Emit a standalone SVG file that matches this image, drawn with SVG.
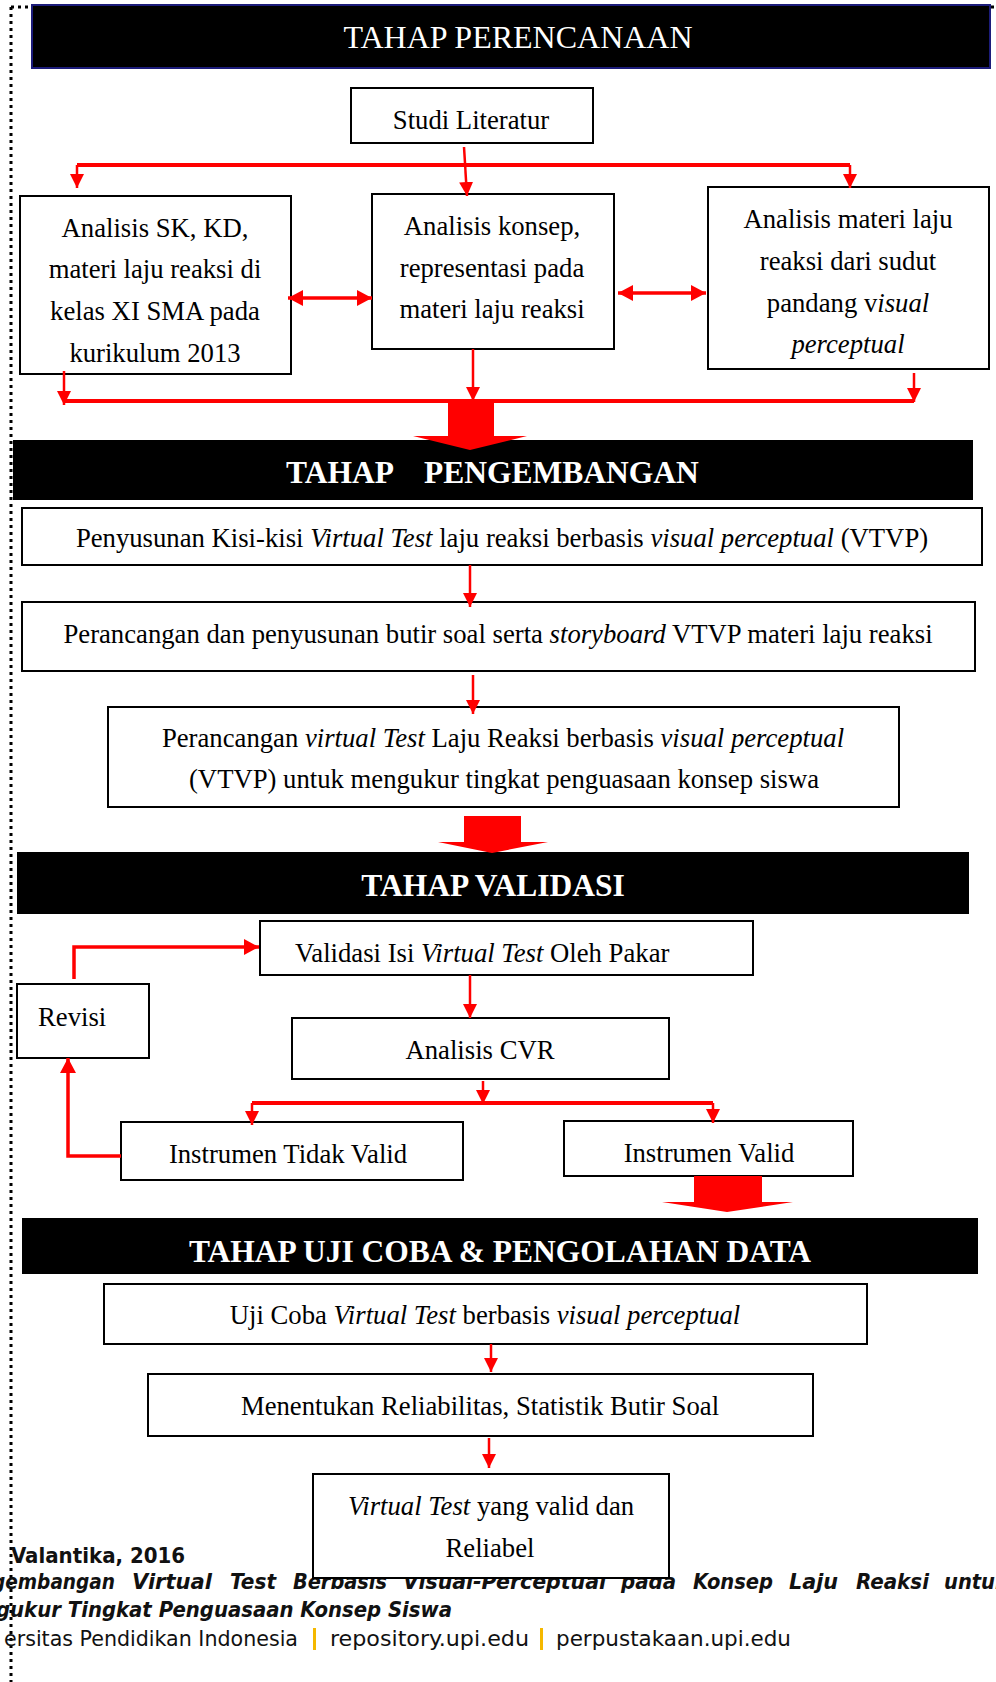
<svg xmlns="http://www.w3.org/2000/svg" width="996" height="1682" viewBox="0 0 996 1682">
<defs>
<marker id="ah" markerUnits="userSpaceOnUse" markerWidth="16" markerHeight="16" refX="15" refY="8" orient="auto-start-reverse" viewBox="0 0 16 16">
<path d="M0,0 L15,8 L0,16 z" fill="#ff0000"/>
</marker>
<marker id="ahs" markerUnits="userSpaceOnUse" markerWidth="14" markerHeight="14" refX="14" refY="7" orient="auto-start-reverse" viewBox="0 0 14 14">
<path d="M0,0 L14,7 L0,14 z" fill="#ff0000"/>
</marker>
</defs>
<style>
.box{fill:#fff;stroke:#000;stroke-width:2}
.bar{fill:#000}
.t{font-family:"Liberation Serif","Times New Roman",serif;font-size:26.7px;fill:#000}
.c{text-anchor:middle}
.i{font-style:italic}
.bt{font-family:"Liberation Serif","Times New Roman",serif;font-size:31.5px;fill:#fff;font-weight:bold}
.ln{fill:none;stroke:#ff0000;stroke-width:2.5}
.lnt{fill:none;stroke:#ff0000;stroke-width:4}
.lnm{fill:none;stroke:#ff0000;stroke-width:3.5}
.blk{fill:#ff0000}
.ft{font-family:"DejaVu Sans Condensed","DejaVu Sans",sans-serif;font-size:21px;fill:#111}
.fb{font-weight:bold}
.fi{font-style:italic}
.sep{fill:#f5b800}
</style>

<!-- page border dotted -->
<path d="M11,7 V1682 M11,7 H996" fill="none" stroke="#000" stroke-width="3" stroke-dasharray="3 4"/>

<!-- footer (behind final box) -->
<g id="footer">
<text class="ft fb" x="11" y="1563" textLength="174" lengthAdjust="spacingAndGlyphs">Valantika, 2016</text>
<g class="ft fb fi">
<text x="-8" y="1589" textLength="123" lengthAdjust="spacingAndGlyphs">gembangan</text>
<text x="132" y="1589" textLength="80" lengthAdjust="spacingAndGlyphs">Virtual</text>
<text x="230" y="1589" textLength="46" lengthAdjust="spacingAndGlyphs">Test</text>
<text x="293" y="1589" textLength="94" lengthAdjust="spacingAndGlyphs">Berbasis</text>
<text x="403" y="1589" textLength="203" lengthAdjust="spacingAndGlyphs">Visual-Perceptual</text>
<text x="621" y="1589" textLength="55" lengthAdjust="spacingAndGlyphs">pada</text>
<text x="693" y="1589" textLength="80" lengthAdjust="spacingAndGlyphs">Konsep</text>
<text x="789" y="1589" textLength="49" lengthAdjust="spacingAndGlyphs">Laju</text>
<text x="856" y="1589" textLength="73" lengthAdjust="spacingAndGlyphs">Reaksi</text>
<text x="944" y="1589" textLength="64" lengthAdjust="spacingAndGlyphs">untuk</text>
</g>
<text class="ft fb fi" x="-4" y="1617" textLength="456" lengthAdjust="spacingAndGlyphs">gukur Tingkat Penguasaan Konsep Siswa</text>
<text class="ft" x="4" y="1646" textLength="294" lengthAdjust="spacingAndGlyphs">ersitas Pendidikan Indonesia</text>
<rect class="sep" x="313" y="1628" width="3" height="22"/>
<text class="ft" x="330" y="1646" textLength="199" lengthAdjust="spacingAndGlyphs">repository.upi.edu</text>
<rect class="sep" x="540" y="1628" width="3" height="22"/>
<text class="ft" x="556" y="1646" textLength="235" lengthAdjust="spacingAndGlyphs">perpustakaan.upi.edu</text>
</g>

<!-- phase bars -->
<g id="bar-perencanaan">
<rect x="32" y="5" width="958" height="63" fill="#000" stroke="#1c1c7a" stroke-width="2"/>
<text x="518" y="48" text-anchor="middle" font-family="Liberation Serif, Times New Roman, serif" font-size="32" fill="#fff">TAHAP PERENCANAAN</text>
</g>
<g id="bar-pengembangan">
<rect class="bar" x="13" y="440" width="960" height="60"/>
<text class="bt" x="286" y="483">TAHAP</text>
<text class="bt" x="424" y="483">PENGEMBANGAN</text>
</g>
<g id="bar-validasi">
<rect class="bar" x="17" y="852" width="952" height="62"/>
<text class="bt c" x="493" y="896">TAHAP VALIDASI</text>
</g>
<g id="bar-ujicoba">
<rect class="bar" x="22" y="1218" width="956" height="56"/>
<text class="bt c" x="500" y="1262">TAHAP UJI COBA &amp; PENGOLAHAN DATA</text>
</g>

<!-- nodes -->
<g id="studi-literatur">
<rect class="box" x="351" y="88" width="242" height="55"/>
<text class="t c" x="471" y="129">Studi Literatur</text>
</g>
<g id="analisis-sk-kd">
<rect class="box" x="20" y="196" width="271" height="178"/>
<text class="t c" x="155" y="237">Analisis SK, KD,</text>
<text class="t c" x="155" y="278">materi laju reaksi di</text>
<text class="t c" x="155" y="320">kelas XI SMA pada</text>
<text class="t c" x="155" y="362">kurikulum 2013</text>
</g>
<g id="analisis-konsep">
<rect class="box" x="372" y="194" width="242" height="155"/>
<text class="t c" x="492" y="235">Analisis konsep,</text>
<text class="t c" x="492" y="277">representasi pada</text>
<text class="t c" x="492" y="318">materi laju reaksi</text>
</g>
<g id="analisis-materi">
<rect class="box" x="708" y="187" width="281" height="182"/>
<text class="t c" x="848" y="228">Analisis materi laju</text>
<text class="t c" x="848" y="270">reaksi dari sudut</text>
<text class="t c" x="848" y="312">pandang v<tspan class="i">isual</tspan></text>
<text class="t c i" x="848" y="353">perceptual</text>
</g>
<g id="kisi-kisi">
<rect class="box" x="22" y="508" width="960" height="57"/>
<text class="t c" x="502" y="547">Penyusunan Kisi-kisi <tspan class="i">Virtual Test</tspan> laju reaksi berbasis <tspan class="i">visual perceptual</tspan> (VTVP)</text>
</g>
<g id="butir-soal">
<rect class="box" x="22" y="602" width="953" height="69"/>
<text class="t c" x="498" y="643">Perancangan dan penyusunan butir soal serta <tspan class="i">storyboard</tspan> VTVP materi laju reaksi</text>
</g>
<g id="perancangan-vt">
<rect class="box" x="108" y="707" width="791" height="100"/>
<text class="t c" x="503" y="747">Perancangan <tspan class="i">virtual Test</tspan> Laju Reaksi berbasis <tspan class="i">visual perceptual</tspan></text>
<text class="t c" x="504" y="788">(VTVP) untuk mengukur tingkat penguasaan konsep siswa</text>
</g>
<g id="validasi-isi">
<rect class="box" x="260" y="921" width="493" height="54"/>
<text class="t" x="295" y="962">Validasi Isi <tspan class="i">Virtual Test</tspan> Oleh Pakar</text>
</g>
<g id="revisi">
<rect class="box" x="17" y="984" width="132" height="74"/>
<text class="t" x="38" y="1026">Revisi</text>
</g>
<g id="analisis-cvr">
<rect class="box" x="292" y="1018" width="377" height="61"/>
<text class="t c" x="480" y="1059">Analisis CVR</text>
</g>
<g id="tidak-valid">
<rect class="box" x="121" y="1122" width="342" height="58"/>
<text class="t c" x="288" y="1163">Instrumen Tidak Valid</text>
</g>
<g id="valid">
<rect class="box" x="564" y="1121" width="289" height="55"/>
<text class="t c" x="709" y="1162">Instrumen Valid</text>
</g>
<g id="uji-coba">
<rect class="box" x="104" y="1284" width="763" height="60"/>
<text class="t c" x="485" y="1324">Uji Coba <tspan class="i">Virtual Test</tspan> berbasis <tspan class="i">visual perceptual</tspan></text>
</g>
<g id="reliabilitas">
<rect class="box" x="148" y="1374" width="665" height="62"/>
<text class="t c" x="480" y="1415">Menentukan Reliabilitas, Statistik Butir Soal</text>
</g>
<g id="hasil">
<rect class="box" x="313" y="1474" width="356" height="104"/>
<text class="t c" x="491" y="1515"><tspan class="i">Virtual Test</tspan> yang valid dan</text>
<text class="t c" x="490" y="1557">Reliabel</text>
</g>

<!-- connectors -->
<g id="connectors">
<path class="ln" d="M464,147 L467,196" marker-end="url(#ahs)"/>
<path class="lnt" d="M77,165 H850"/>
<path class="ln" d="M77,165 V188" marker-end="url(#ahs)"/>
<path class="ln" d="M850,165 V188" marker-end="url(#ahs)"/>
<path class="lnm" d="M288,298 H372" marker-start="url(#ah)" marker-end="url(#ah)"/>
<path class="lnm" d="M618,293 H706" marker-start="url(#ah)" marker-end="url(#ah)"/>
<path class="ln" d="M64,371 V405" marker-end="url(#ahs)"/>
<path class="ln" d="M473,349 V401" marker-end="url(#ahs)"/>
<path class="ln" d="M914,373 V402" marker-end="url(#ahs)"/>
<path class="lnt" d="M64,401 H914"/>
<path class="blk" d="M448,401 H494 V436 H527 L470,450 L413,436 H448 z"/>
<path class="ln" d="M470,565 V607" marker-end="url(#ahs)"/>
<path class="ln" d="M473,675 V714" marker-end="url(#ahs)"/>
<path class="blk" d="M464,816 H521 V842 H548 L492,853 L438,842 H464 z"/>
<path class="lnm" d="M74,979 V947 H259" marker-end="url(#ah)"/>
<path class="ln" d="M470,975 V1018" marker-end="url(#ahs)"/>
<path class="ln" d="M483,1081 V1104" marker-end="url(#ahs)"/>
<path class="lnt" d="M252,1103 H713"/>
<path class="ln" d="M252,1103 V1125" marker-end="url(#ahs)"/>
<path class="ln" d="M713,1103 V1123" marker-end="url(#ahs)"/>
<path class="lnm" d="M121,1156 H68 V1058" marker-end="url(#ah)"/>
<path class="blk" d="M694,1176 H762 V1202 H793 L727,1212 L662,1202 H694 z"/>
<path class="ln" d="M491,1344 V1372" marker-end="url(#ahs)"/>
<path class="ln" d="M489,1438 V1468" marker-end="url(#ahs)"/>
</g>
</svg>
